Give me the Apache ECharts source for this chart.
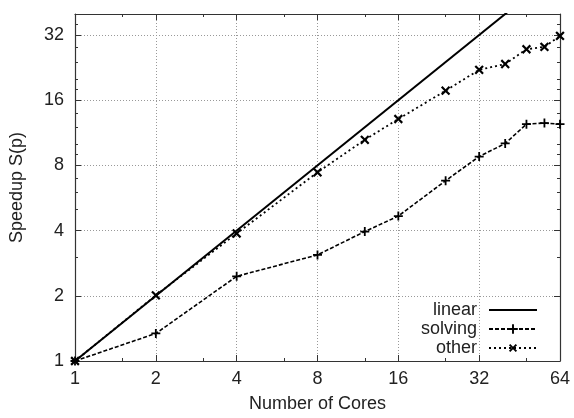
<!DOCTYPE html>
<html>
<head>
<meta charset="utf-8">
<script src="https://cdn.jsdelivr.net/npm/echarts@6/dist/echarts.min.js"></script>
<style>
  html, body { margin: 0; padding: 0; background: #fff; }
  #chart { width: 574px; height: 418px; }
</style>
</head>
<body>
<div id="chart"></div>
<script>
// values
const cores = [1, 2, 4, 8, 12, 16, 24, 32, 40, 48, 56, 64];
const solving = [1, 1.34, 2.46, 3.09, 3.96, 4.67, 6.8, 8.79, 10.1, 12.4, 12.55, 12.4];
const other = [1, 2.01, 3.88, 7.43, 10.5, 13.1, 17.7, 22.1, 23.5, 27.5, 28.2, 31.7];
const linearX = [1, 64];
const linearY = [1, 64];

const xMajor = [1, 2, 4, 8, 16, 32, 64];
const yMajor = [1, 2, 4, 8, 16, 32];
const xMinor = [1.5, 3, 6, 12, 24, 48];
const yMinor = [3, 5, 6, 7, 9, 10, 12, 14, 18, 20, 24, 28, 36];

const font = "'Liberation Sans', Arial, sans-serif";
const ink = '#222';
const fs = 18;
const plus = 'path://M4,0H6V4H10V6H6V10H4V6H0V4H4Z';

function pairs(xs, ys) {
  return xs.map((x, i) => [x, ys[i]]);
}

// one log2 axis; extra copies only draw mirrored / minor ticks
function axis(min, max, position, ticks, len, opts) {
  return Object.assign({
    type: 'log',
    logBase: 2,
    min: min,
    max: max,
    position: position,
    axisLine: { show: false },
    axisTick: { show: true, inside: true, length: len, customValues: ticks,
      lineStyle: { color: '#333', width: 1 } },
    axisLabel: { show: false },
    splitLine: { show: false },
    minorTick: { show: false }
  }, opts || {});
}

const frame = { show: true, lineStyle: { color: '#333', width: 1.2 } };
const grid = { type: [1, 2], color: '#999', width: 1 };

const chart = echarts.init(document.getElementById('chart'));
chart.setOption({
  animation: false,
  textStyle: { fontFamily: font },
  grid: { left: 73, right: 14, top: 14, bottom: 55 },
  xAxis: [
    axis(1, 64, 'bottom', xMajor, 6, {
      axisLine: frame,
      axisLabel: { show: true, customValues: xMajor, color: ink, fontSize: fs, margin: 9, fontFamily: font },
      splitLine: { show: true, lineStyle: grid },
      name: 'Number of Cores',
      nameLocation: 'middle',
      nameGap: 34,
      nameTextStyle: { color: ink, fontSize: fs, fontFamily: font }
    }),
    axis(1, 64, 'top', xMajor, 6, { axisLine: frame }),
    axis(1, 64, 'bottom', xMinor, 3),
    axis(1, 64, 'top', xMinor, 3)
  ],
  yAxis: [
    axis(1, 40, 'left', yMajor, 6, {
      axisLine: frame,
      axisLabel: { show: true, customValues: yMajor, color: ink, fontSize: fs, margin: 11, fontFamily: font },
      splitLine: { show: true, lineStyle: grid },
      name: 'Speedup S(p)',
      nameLocation: 'middle',
      nameGap: 49,
      nameTextStyle: { color: ink, fontSize: fs, fontFamily: font }
    }),
    axis(1, 40, 'right', yMajor, 6, { axisLine: frame }),
    axis(1, 40, 'left', yMinor, 3),
    axis(1, 40, 'right', yMinor, 3)
  ],
  legend: {
    orient: 'vertical',
    right: 31,
    bottom: 56,
    align: 'right',
    itemWidth: 48,
    itemHeight: 12,
    itemGap: 1,
    textStyle: { color: ink, fontSize: fs, fontFamily: font, padding: [0, 7, 0, 0], lineHeight: 17 },
    data: [
      { name: 'linear', itemStyle: { opacity: 0 } },
      'solving',
      'other'
    ]
  },
  series: [
    {
      name: 'linear',
      type: 'line',
      data: pairs(linearX, linearY),
      symbol: 'none',
      lineStyle: { color: '#000', width: 2 },
      itemStyle: { color: '#000' }
    },
    {
      name: 'solving',
      type: 'line',
      data: pairs(cores, solving),
      symbol: plus,
      symbolSize: 9,
      lineStyle: { color: '#000', width: 1.6, type: [4, 2] },
      itemStyle: { color: '#000' }
    },
    {
      name: 'other',
      type: 'line',
      data: pairs(cores, other),
      symbol: plus,
      symbolSize: 11,
      symbolRotate: 45,
      lineStyle: { color: '#000', width: 1.8, type: [2, 3] },
      itemStyle: { color: '#000' }
    }
  ]
});
</script>
</body>
</html>
